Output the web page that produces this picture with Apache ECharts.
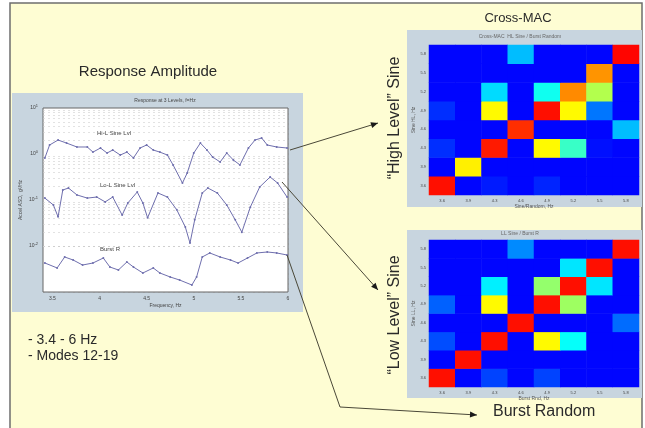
<!DOCTYPE html>
<html><head><meta charset="utf-8">
<script src="https://cdn.jsdelivr.net/npm/echarts@6/dist/echarts.min.js"></script>
<style>html,body{margin:0;padding:0;background:#fff}#c{width:645px;height:428px}</style>
</head><body><div id="c"></div><script>
// ---- Response amplitude curves (frequency Hz, amplitude) ----
const hiFreq = [3.42,3.47,3.56,3.65,3.76,3.87,3.93,4.01,4.08,4.14,4.22,4.29,4.36,4.43,4.50,4.57,4.64,4.72,4.78,4.88,4.93,5.00,5.07,5.14,5.20,5.28,5.35,5.42,5.49,5.58,5.65,5.72,5.78,5.88,5.99];
const hiAmp  = [0.82,1.57,2.01,1.73,1.42,1.42,1.10,1.35,1.05,1.22,0.95,1.10,0.82,1.35,1.57,1.22,1.10,0.95,0.58,0.234,0.386,1.05,1.73,1.22,0.86,0.67,1.05,0.74,0.58,1.35,2.01,2.23,1.57,1.42,1.35];
const loFreq = [3.42,3.51,3.56,3.61,3.67,3.76,3.87,3.97,4.06,4.14,4.24,4.30,4.40,4.46,4.51,4.62,4.72,4.82,4.91,4.96,5.01,5.09,5.15,5.25,5.35,5.44,5.51,5.60,5.70,5.81,5.89,5.99];
const loAmp  = [0.110,0.078,0.043,0.165,0.182,0.129,0.110,0.116,0.091,0.116,0.047,0.086,0.149,0.086,0.041,0.142,0.116,0.061,0.026,0.0116,0.037,0.142,0.182,0.142,0.078,0.037,0.020,0.070,0.192,0.316,0.234,0.116];
const brFreq = [3.42,3.55,3.63,3.72,3.82,3.93,4.04,4.11,4.20,4.29,4.36,4.46,4.57,4.64,4.75,4.85,4.98,5.03,5.09,5.17,5.28,5.39,5.47,5.57,5.67,5.78,5.88,5.99];
const brAmp  = [0.00427,0.00333,0.00577,0.00496,0.00386,0.00427,0.00548,0.00349,0.00301,0.00449,0.00349,0.00259,0.00333,0.00259,0.00212,0.00182,0.00142,0.00212,0.00577,0.00705,0.00577,0.00496,0.00427,0.00548,0.00705,0.00741,0.00705,0.00637];
const curveNames = ['Hi-L Sine Lvl','Lo-L Sine Lvl','Burst R'];
// log minor grid lines
const gridMult = [2,3,4,5,6,7,8,9];
const gridDecades = [0.001,0.01,0.1,1];

// ---- Cross-MAC matrices (rows bottom->top, cols left->right) ----
const modeTicks = ['3.6','3.9','4.3','4.6','4.9','5.2','5.5','5.8'];
const macHigh = [
  [0.86,0.13,0.15,0.13,0.16,0.13,0.13,0.13],
  [0.13,0.64,0.13,0.13,0.13,0.13,0.13,0.13],
  [0.17,0.13,0.85,0.13,0.63,0.43,0.14,0.13],
  [0.13,0.13,0.13,0.83,0.13,0.13,0.13,0.31],
  [0.17,0.13,0.63,0.13,0.86,0.63,0.24,0.13],
  [0.13,0.13,0.34,0.13,0.39,0.74,0.55,0.13],
  [0.13,0.13,0.13,0.13,0.13,0.13,0.73,0.13],
  [0.13,0.13,0.13,0.31,0.13,0.13,0.13,0.87]
];
const macLow = [
  [0.86,0.13,0.19,0.13,0.19,0.13,0.13,0.13],
  [0.13,0.86,0.13,0.13,0.13,0.13,0.13,0.13],
  [0.20,0.13,0.86,0.13,0.63,0.38,0.13,0.13],
  [0.13,0.13,0.13,0.86,0.13,0.13,0.13,0.23],
  [0.22,0.13,0.63,0.13,0.86,0.53,0.13,0.13],
  [0.13,0.13,0.36,0.13,0.52,0.86,0.35,0.13],
  [0.13,0.13,0.13,0.13,0.13,0.35,0.86,0.13],
  [0.13,0.13,0.13,0.26,0.13,0.13,0.13,0.86]
];

const FONT = '"Liberation Sans", Arial, sans-serif';
const TXT = '#2a2a2a';
const LINEC = '#4a4838';

function pairs(xs, ys){ return xs.map((x,i)=>[x, ys[i]]); }
function cells(m){ const out=[]; m.forEach((row,y)=>row.forEach((v,x)=>out.push([x,y,v]))); return out; }
const minorLines = [];
gridDecades.forEach(d=>gridMult.forEach(k=>minorLines.push({yAxis: +(k*d).toPrecision(3)})));

function txt(text,x,y,size,opts){
  return Object.assign({type:'text', x:x, y:y, z:50, style:{text:text, fill:TXT, font:size+'px '+FONT, textAlign:'left', textVerticalAlign:'middle'}}, opts||{});
}
function arrowHead(x1,y1,x2,y2){
  const a=Math.atan2(y2-y1,x2-x1), L=7, W=3;
  const bx=x2-L*Math.cos(a), by=y2-L*Math.sin(a);
  return {type:'polygon', z:60, shape:{points:[[x2,y2],[bx+W*Math.sin(a),by-W*Math.cos(a)],[bx-W*Math.sin(a),by+W*Math.cos(a)]]}, style:{fill:'#1a1a1a'}};
}

const chart = echarts.init(document.getElementById('c'), null, {renderer:'canvas'});
const lineStyleCurve = {color:'#6f6fae', width:1};
const tinyLbl = {fontSize:5, color:'#444', fontFamily:FONT};

chart.setOption({
  animation:false,
  backgroundColor:'#ffffff',
  graphic:[
    {type:'rect', z:-30, shape:{x:10,y:3,width:632,height:440}, style:{fill:'#fefdd3', stroke:'#6e6e6e', lineWidth:1.5}},
    {type:'rect', z:-20, shape:{x:12,y:93,width:291,height:219}, style:{fill:'#c8d5df'}},
    {type:'rect', z:-20, shape:{x:407,y:30,width:235,height:177}, style:{fill:'#c8d5df'}},
    {type:'rect', z:-20, shape:{x:407,y:230,width:235,height:168}, style:{fill:'#c8d5df'}},
    txt('Response Amplitude',148,72,15,{style:{text:'Response Amplitude', fill:TXT, font:'15px '+FONT, textAlign:'center', textVerticalAlign:'middle'}}),
    txt('Cross-MAC',518,18,13,{style:{text:'Cross-MAC', fill:TXT, font:'13px '+FONT, textAlign:'center', textVerticalAlign:'middle'}}),
    {type:'text', x:395, y:118, rotation:Math.PI/2, z:50, style:{text:'\u201CHigh Level\u201D Sine', fill:TXT, font:'16px '+FONT, textAlign:'center', textVerticalAlign:'middle'}},
    {type:'text', x:395, y:315, rotation:Math.PI/2, z:50, style:{text:'\u201CLow Level\u201D Sine', fill:TXT, font:'16px '+FONT, textAlign:'center', textVerticalAlign:'middle'}},
    txt('Burst Random',493,412,16),
    txt('- 3.4 - 6 Hz',28,340,14),
    txt('- Modes 12-19',28,356,14),
    // small texts in the response plot
    {type:'text', x:165, y:101, z:50, style:{text:'Response at 3 Levels, f=Hz', fill:'#444', font:'5px '+FONT, textAlign:'center', textVerticalAlign:'middle'}},
    {type:'text', x:97, y:133, z:50, style:{text:curveNames[0], fill:'#444', font:'6px '+FONT, textAlign:'left', textVerticalAlign:'middle'}},
    {type:'text', x:100, y:185, z:50, style:{text:curveNames[1], fill:'#444', font:'6px '+FONT, textAlign:'left', textVerticalAlign:'middle'}},
    {type:'text', x:100, y:249, z:50, style:{text:curveNames[2], fill:'#444', font:'6px '+FONT, textAlign:'left', textVerticalAlign:'middle'}},
    {type:'text', x:520, y:37, z:50, style:{text:'Cross-MAC  HL Sine / Burst Random', fill:'#666', font:'5px '+FONT, textAlign:'center', textVerticalAlign:'middle'}},
    {type:'text', x:520, y:234, z:50, style:{text:'LL Sine / Burst R', fill:'#666', font:'5px '+FONT, textAlign:'center', textVerticalAlign:'middle'}},
    // connector lines
    {type:'line', z:55, shape:{x1:290,y1:150,x2:378,y2:123}, style:{stroke:LINEC, lineWidth:1}},
    arrowHead(290,150,378,123),
    {type:'line', z:55, shape:{x1:282,y1:182,x2:378,y2:290}, style:{stroke:LINEC, lineWidth:1}},
    arrowHead(282,182,378,290),
    {type:'polyline', z:55, shape:{points:[[287,255],[340,407],[477,415]]}, style:{stroke:LINEC, lineWidth:1, fill:null}},
    arrowHead(340,407,477,415)
  ],
  grid:[
    {left:43, top:108, width:245, height:184, show:true, backgroundColor:'#ffffff', borderColor:'#666', borderWidth:1, z:1},
    {left:429, top:45, width:210, height:150},
    {left:429, top:240, width:210, height:147}
  ],
  xAxis:[
    {type:'value', gridIndex:0, min:3.4, max:6, interval:0.1,
     name:'Frequency, Hz', nameLocation:'middle', nameGap:11, nameTextStyle:{fontSize:5, color:'#444', fontFamily:FONT},
     axisLine:{show:false}, axisTick:{show:false},
     axisLabel:Object.assign({margin:4, showMinLabel:false, formatter:v=>{const t=Math.round(v*10); return t%5===0 ? String(t/10) : '';}}, tinyLbl),
     splitLine:{show:true, lineStyle:{color:'#bdbdbd', type:[2,3], width:0.6}}},
    {type:'category', gridIndex:1, data:modeTicks, name:'Sine/Random, Hz', nameLocation:'middle', nameGap:9,
     nameTextStyle:{fontSize:5, color:'#555', fontFamily:FONT},
     axisLine:{show:false}, axisTick:{show:false}, axisLabel:Object.assign({margin:4}, tinyLbl, {fontSize:4})},
    {type:'category', gridIndex:2, data:modeTicks, name:'Burst Rnd, Hz', nameLocation:'middle', nameGap:9,
     nameTextStyle:{fontSize:5, color:'#555', fontFamily:FONT},
     axisLine:{show:false}, axisTick:{show:false}, axisLabel:Object.assign({margin:4}, tinyLbl, {fontSize:4})}
  ],
  yAxis:[
    {type:'log', gridIndex:0, logBase:10, min:0.001, max:10,
     name:'Accel ASD,  g\u00B2/Hz', nameLocation:'middle', nameGap:20, nameRotate:90,
     nameTextStyle:{fontSize:5, color:'#444', fontFamily:FONT},
     axisLine:{show:false}, axisTick:{show:false},
     axisLabel:{margin:5, fontSize:5, color:'#444', fontFamily:FONT,
       formatter:v=>{const e=Math.round(Math.log10(v)); return e===-3 ? '' : '10{s|'+e+'}';},
       rich:{s:{fontSize:4, verticalAlign:'top', padding:[0,0,4,0], color:'#444'}}},
     splitLine:{show:true, lineStyle:{color:'#bdbdbd', type:[2,3], width:0.6}}},
    {type:'category', gridIndex:1, data:modeTicks, name:'Sine HL, Hz', nameLocation:'middle', nameGap:12, nameRotate:90,
     nameTextStyle:{fontSize:5, color:'#555', fontFamily:FONT},
     axisLine:{show:false}, axisTick:{show:false}, axisLabel:Object.assign({margin:3}, tinyLbl, {fontSize:4})},
    {type:'category', gridIndex:2, data:modeTicks, name:'Sine LL, Hz', nameLocation:'middle', nameGap:12, nameRotate:90,
     nameTextStyle:{fontSize:5, color:'#555', fontFamily:FONT},
     axisLine:{show:false}, axisTick:{show:false}, axisLabel:Object.assign({margin:3}, tinyLbl, {fontSize:4})}
  ],
  visualMap:{show:false, min:0, max:1, seriesIndex:[3,4], calculable:false,
    inRange:{color:['#00008f','#0000ff','#0080ff','#00ffff','#80ff80','#ffff00','#ff8000','#ff0000','#800000']}},
  series:[
    {type:'line', name:curveNames[0], xAxisIndex:0, yAxisIndex:0, data:pairs(hiFreq,hiAmp), z:5,
     symbol:'circle', symbolSize:2, showSymbol:true, lineStyle:lineStyleCurve, itemStyle:{color:'#6f6fae'},
     markLine:{silent:true, symbol:'none', label:{show:false}, z:1, lineStyle:{color:'#cfcfcf', type:[2,3], width:0.6}, data:minorLines}},
    {type:'line', name:curveNames[1], xAxisIndex:0, yAxisIndex:0, data:pairs(loFreq,loAmp), z:5,
     symbol:'circle', symbolSize:2, showSymbol:true, lineStyle:lineStyleCurve, itemStyle:{color:'#6f6fae'}},
    {type:'line', name:curveNames[2], xAxisIndex:0, yAxisIndex:0, data:pairs(brFreq,brAmp), z:5,
     symbol:'circle', symbolSize:2, showSymbol:true, lineStyle:lineStyleCurve, itemStyle:{color:'#6f6fae'}},
    {type:'heatmap', xAxisIndex:1, yAxisIndex:1, data:cells(macHigh), itemStyle:{borderWidth:0}, emphasis:{disabled:true}},
    {type:'heatmap', xAxisIndex:2, yAxisIndex:2, data:cells(macLow), itemStyle:{borderWidth:0}, emphasis:{disabled:true}}
  ]
});
</script></body></html>
